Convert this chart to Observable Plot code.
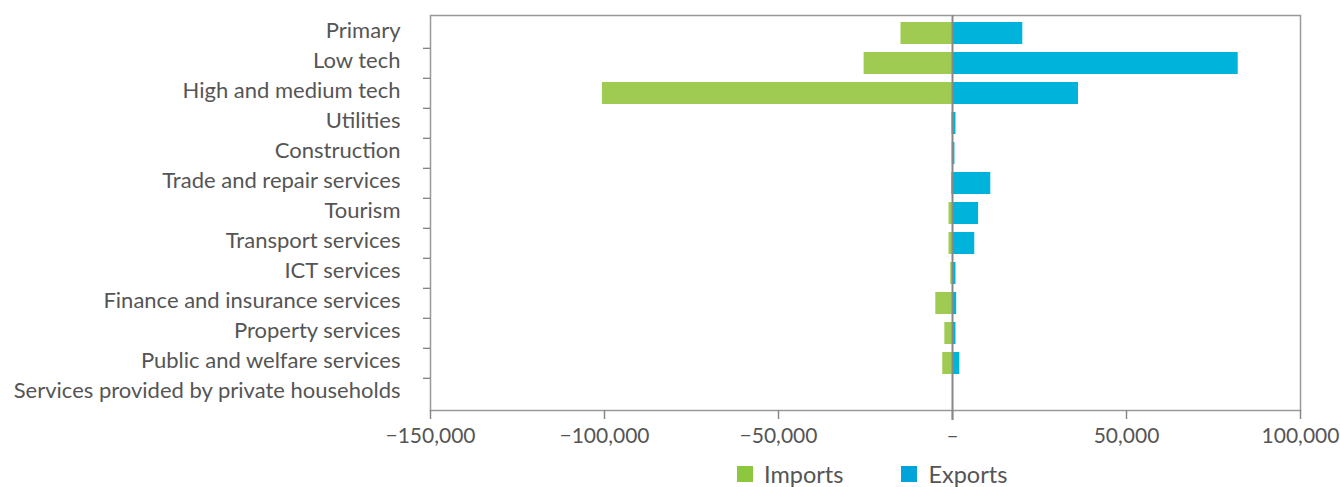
<!DOCTYPE html>
<html>
<head>
<meta charset="utf-8">
<script src="https://cdn.jsdelivr.net/npm/d3@7"></script>
<script src="https://cdn.jsdelivr.net/npm/@observablehq/plot@0.6"></script>
<style>
  body { margin: 0; background: #fff; font-family: Lato, "Open Sans", sans-serif; }
  #wrap { position: relative; width: 1340px; height: 487px; }
  #legend { position: absolute; top: 460px; left: 737px; display: flex; align-items: center; font-size: 23.5px; color: #555; }
  #legend .sw { width: 16px; height: 16px; display: inline-block; margin-right: 11px; }
  #legend .item { display: flex; align-items: center; margin-right: 58px; }
</style>
</head>
<body>
<div id="wrap"></div>
<script>
const categories = [
  "Primary", "Low tech", "High and medium tech", "Utilities", "Construction",
  "Trade and repair services", "Tourism", "Transport services", "ICT services",
  "Finance and insurance services", "Property services", "Public and welfare services",
  "Services provided by private households"
];
const imports = [-14800, -25400, -100600, -200, -100, -300, -1000, -1000, -500, -4800, -2200, -2800, 0];
const exports = [20200, 82100, 36200, 1000, 700, 11000, 7500, 6400, 1000, 1200, 1000, 2100, 0];
const xTicks = [-150000, -100000, -50000, 0, 50000, 100000];
const seriesNames = ["Imports", "Exports"];
const seriesColors = ["#9fcb52", "#00b3da"];

const importRows = categories.map((c, i) => ({category: c, value: imports[i]}));
const exportRows = categories.map((c, i) => ({category: c, value: exports[i]}));

const fmt = d => d === 0 ? "–" : (d < 0 ? "−" : "") + d3.format(",")(Math.abs(d));

const chart = Plot.plot({
  width: 1340,
  height: 455,
  marginTop: 15,
  marginBottom: 45,
  marginLeft: 430,
  marginRight: 40,
  style: {fontFamily: "Lato, 'Open Sans', sans-serif", color: "#555", background: "#fff"},
  x: {domain: [-150000, 100000]},
  y: {domain: categories, paddingInner: 0.276, paddingOuter: 0.138},
  marks: [
    Plot.barX(importRows, {x: "value", y: "category", fill: seriesColors[0]}),
    Plot.barX(exportRows, {x: "value", y: "category", fill: seriesColors[1]}),
    Plot.frame({stroke: "#999", strokeWidth: 1.5}),
    Plot.ruleX([0], {stroke: "#888", strokeWidth: 2, insetBottom: -10}),
    Plot.axisY({ticks: categories, tickSize: 0, tickPadding: 30, dy: -3, fontSize: 22, fill: "#555", label: null}),
    Plot.axisY({ticks: categories.slice(1), tickSize: 7, dy: -15.2, tickFormat: () => "", stroke: "#777", strokeWidth: 1.2, label: null}),
    Plot.axisX({ticks: xTicks, tickSize: 9, tickPadding: 9, tickFormat: fmt, fontSize: 21, fill: "#555", stroke: "#888", strokeWidth: 1.5, label: null})
  ]
});
document.getElementById("wrap").appendChild(chart);

const legend = document.createElement("div");
legend.id = "legend";
seriesNames.forEach((n, i) => {
  const item = document.createElement("span");
  item.className = "item";
  const sw = document.createElement("span");
  sw.className = "sw";
  sw.style.background = i === 0 ? "#8dc63f" : "#00a3da";
  item.appendChild(sw);
  item.appendChild(document.createTextNode(n));
  legend.appendChild(item);
});
document.getElementById("wrap").appendChild(legend);
</script>
</body>
</html>
